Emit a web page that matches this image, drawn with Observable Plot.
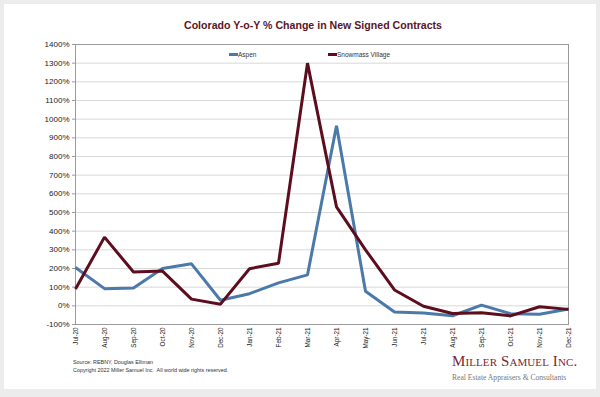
<!DOCTYPE html>
<html>
<head>
<meta charset="utf-8">
<script src="https://cdn.jsdelivr.net/npm/d3@7"></script>
<script src="https://cdn.jsdelivr.net/npm/@observablehq/plot@0.6"></script>
<style>
  html, body { margin: 0; padding: 0; }
  body { width: 600px; height: 397px; background: #ececec; position: relative; overflow: hidden; font-family: "Liberation Sans", Arial, sans-serif; }
  #card { position: absolute; left: 4px; top: 4px; width: 592px; height: 385px; background: #fff; }
  #chart { position: absolute; left: 0; top: 0; }
  .abs { position: absolute; white-space: nowrap; }
  #title { left: 0; width: 626px; top: 19px; text-align: center; font-weight: bold; font-size: 10.6px; color: #5a1626; }
  .leg { font-size: 6.5px; color: #333; top: 51px; }
  .sw { display: inline-block; width: 9px; height: 2.5px; vertical-align: middle; margin-right: 0px; position: relative; top: -1px; }
  .foot { font-size: 5.4px; color: #333; left: 73px; }
  #logo { left: 452px; top: 353px; font-family: "Liberation Serif", "Times New Roman", serif; font-variant: small-caps; font-size: 15px; color: #7a2733; letter-spacing: 0.1px; }
  #sub { left: 452px; top: 373px; font-family: "Liberation Serif", "Times New Roman", serif; font-size: 7.6px; color: #777; }
</style>
</head>
<body>
<div id="card"></div>
<div id="chart"></div>
<div id="title" class="abs">Colorado Y-o-Y % Change in New Signed Contracts</div>
<div class="abs leg" style="left:229px"><span class="sw" style="background:#4a79aa"></span>Aspen</div>
<div class="abs leg" style="left:328px"><span class="sw" style="background:#5c0e1e"></span>Snowmass Village</div>
<div class="abs foot" style="top:359px">Source: REBNY, Douglas Elliman</div>
<div class="abs foot" style="top:367px">Copyright 2022 Miller Samuel Inc.&nbsp; All world wide rights reserved.</div>
<div id="logo" class="abs">Miller Samuel Inc.</div>
<div id="sub" class="abs">Real Estate Appraisers &amp; Consultants</div>
<script>
const months = ["Jul-20","Aug-20","Sep-20","Oct-20","Nov-20","Dec-20","Jan-21","Feb-21","Mar-21","Apr-21","May-21","Jun-21","Jul-21","Aug-21","Sep-21","Oct-21","Nov-21","Dec-21"];
const aspen = [205, 92, 95, 200, 225, 30, 65, 123, 166, 965, 78, -33, -38, -53, 4, -42, -45, -17];
const snowmass = [90, 368, 181, 186, 36, 9, 199, 228, 1300, 530, 300, 85, -2, -41, -37, -54, -5, -19];
const yTicks = d3.range(-100, 1401, 100);

const data = [];
months.forEach((m, i) => {
  data.push({month: m, value: aspen[i], series: "Aspen"});
  data.push({month: m, value: snowmass[i], series: "Snowmass Village"});
});

const chart = Plot.plot({
  width: 600,
  height: 397,
  marginLeft: 75,
  marginRight: 32,
  marginTop: 44,
  marginBottom: 73,
  style: {background: "transparent", fontFamily: "'Liberation Sans', Arial, sans-serif", fontSize: "8px", color: "#222"},
  x: {type: "point", domain: months, padding: 0, label: null},
  y: {domain: [-100, 1400], label: null},
  color: {domain: ["Aspen", "Snowmass Village"], range: ["#4a79aa", "#5c0e1e"]},
  marks: [
    Plot.gridY(yTicks, {stroke: "#cfcfcf", strokeOpacity: 1, strokeWidth: 0.8}),
    Plot.frame({stroke: "#9a9a9a", strokeWidth: 1}),
    Plot.axisY(yTicks, {tickFormat: d => d + "%", tickSize: 3, tickPadding: 3, stroke: "#9a9a9a", fontSize: 8, label: null}),
    Plot.axisX(months, {tickRotate: -90, tickSize: 0, tickPadding: 3, fontSize: 6.3, label: null}),
    Plot.line(data, {x: "month", y: "value", stroke: "series", z: "series", strokeWidth: 3, strokeLinejoin: "miter", strokeLinecap: "butt"})
  ]
});
document.getElementById("chart").appendChild(chart);
</script>
</body>
</html>
